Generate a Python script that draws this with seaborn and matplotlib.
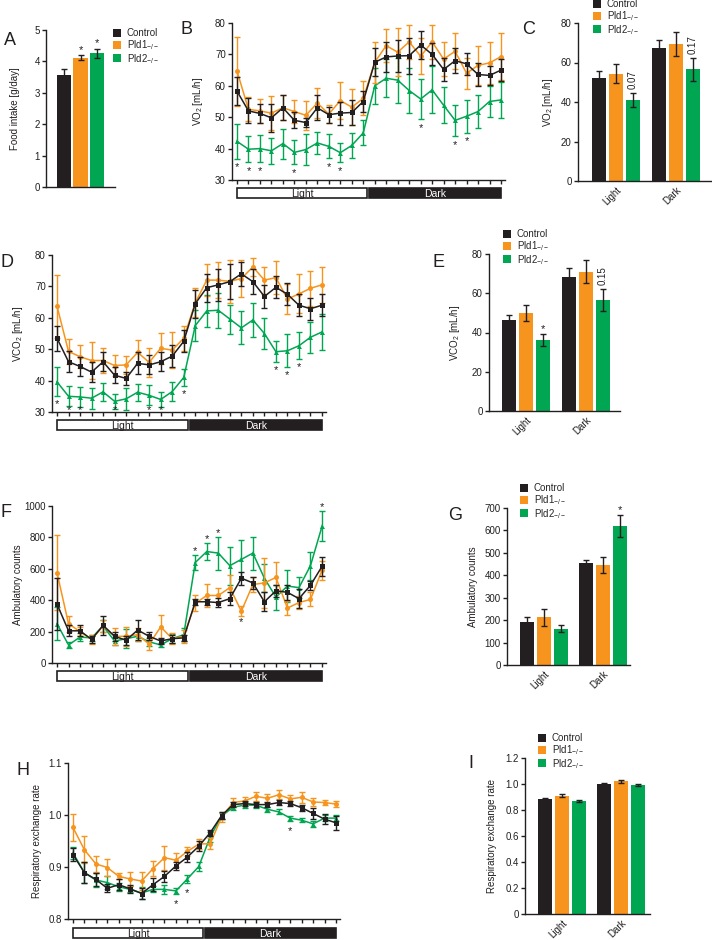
import numpy as np
import pandas as pd
import matplotlib
matplotlib.use("Agg")
import matplotlib.pyplot as plt
import seaborn as sns
from matplotlib.patches import Rectangle
from matplotlib.lines import Line2D

# ---------------- data ----------------
genotypes = ["Control", "Pld1", "Pld2"]
legend_labels = ["Control", "Pld1$_{-/-}$", "Pld2$_{-/-}$"]
phases = ["Light", "Dark"]
hours = list(range(24))

# A: food intake
food_mean = [3.57, 4.12, 4.26]
food_err = [0.20, 0.08, 0.15]
food_marks = {"Pld1": "*", "Pld2": "*"}

# B: VO2 time course
vo2_ctrl = [58.3, 52.0, 51.2, 49.8, 53.0, 49.0, 48.3, 53.0, 50.8, 51.3, 51.5, 55.0,
            67.5, 69.2, 69.5, 69.6, 73.0, 70.0, 65.2, 68.0, 67.0, 63.6, 63.3, 65.0]
vo2_ctrl_err = [4.5, 4.0, 3.0, 4.5, 4.0, 2.5, 1.5, 4.0, 2.5, 3.7, 4.0, 3.5,
                4.5, 4.7, 5.0, 5.7, 4.5, 3.5, 3.8, 4.0, 3.5, 3.8, 3.0, 3.5]
vo2_pld1 = [64.7, 52.5, 52.0, 51.3, 53.0, 51.8, 50.6, 54.5, 51.0, 55.3, 53.2, 56.0,
            67.5, 72.8, 70.7, 74.0, 69.4, 74.0, 68.5, 71.0, 64.0, 66.5, 67.3, 69.3]
vo2_pld1_err = [11.0, 3.8, 3.7, 5.5, 4.0, 3.8, 4.7, 4.7, 3.0, 5.8, 5.7, 5.4,
                6.5, 5.3, 7.7, 5.5, 5.8, 5.5, 5.5, 5.8, 5.0, 6.2, 6.7, 7.5]
vo2_pld2 = [42.3, 39.8, 40.0, 39.3, 41.6, 38.8, 39.7, 41.8, 40.7, 38.7, 41.0, 45.0,
            60.0, 62.4, 61.8, 58.5, 55.8, 58.7, 53.8, 49.0, 50.3, 51.8, 55.0, 55.5]
vo2_pld2_err = [5.5, 4.2, 4.2, 4.2, 4.8, 3.8, 4.8, 3.5, 3.8, 3.0, 4.0, 4.0,
                5.8, 6.0, 7.2, 7.3, 6.5, 7.5, 5.8, 5.0, 5.2, 5.3, 5.0, 5.8]
vo2_star_hours = [0, 1, 2, 5, 8, 9, 16, 19, 20]

# C: VO2 bars
vo2_bar_light = [52.0, 54.3, 41.0]
vo2_bar_light_err = [3.5, 4.7, 3.7]
vo2_bar_dark = [67.2, 69.5, 56.5]
vo2_bar_dark_err = [4.3, 6.0, 5.8]
vo2_bar_marks = {("Light", "Pld2"): "0.07", ("Dark", "Pld2"): "0.17"}

# D: VCO2 time course
vco2_ctrl = [53.5, 46.0, 44.5, 42.7, 46.0, 41.7, 40.7, 45.5, 45.0, 46.0, 47.8, 52.5,
             64.5, 69.6, 70.5, 71.5, 74.0, 71.5, 66.8, 69.7, 67.5, 64.0, 62.9, 64.0]
vco2_ctrl_err = [4.0, 3.3, 3.0, 3.3, 3.0, 2.5, 2.0, 3.5, 3.0, 3.0, 3.5, 3.5,
                 4.5, 4.5, 5.0, 5.5, 3.8, 4.0, 3.8, 3.5, 3.5, 3.5, 3.5, 3.5]
vco2_pld1 = [63.7, 49.3, 47.6, 46.4, 46.4, 44.8, 45.0, 49.0, 45.8, 50.3, 49.7, 53.5,
             64.8, 72.0, 72.0, 71.6, 72.5, 76.2, 72.0, 72.8, 66.0, 67.6, 69.4, 70.5]
vco2_pld1_err = [10.0, 4.0, 3.7, 5.8, 4.0, 3.4, 2.8, 3.8, 4.5, 5.0, 5.8, 4.0,
                 4.7, 5.0, 5.7, 6.8, 6.0, 3.0, 4.3, 5.3, 4.7, 6.2, 5.5, 5.8]
vco2_pld2 = [39.6, 35.0, 34.8, 34.4, 36.4, 33.4, 34.2, 36.3, 35.3, 34.0, 36.5, 41.0,
             57.5, 62.2, 62.4, 59.6, 56.8, 59.3, 55.0, 49.2, 49.5, 51.1, 53.8, 55.5]
vco2_pld2_err = [4.6, 3.2, 3.2, 3.3, 2.8, 2.3, 3.5, 2.7, 3.2, 2.3, 3.0, 2.8,
                 5.0, 5.2, 5.5, 4.6, 5.3, 5.5, 5.0, 3.3, 5.2, 4.3, 5.0, 5.8]
vco2_star_hours = [0, 1, 2, 5, 8, 9, 11, 19, 20, 21]

# E: VCO2 bars
vco2_bar_light = [46.3, 50.0, 36.2]
vco2_bar_light_err = [2.7, 4.2, 3.0]
vco2_bar_dark = [68.3, 71.0, 56.5]
vco2_bar_dark_err = [4.5, 6.0, 5.5]
vco2_bar_marks = {("Light", "Pld2"): "*", ("Dark", "Pld2"): "0.15"}

# F: ambulatory counts time course
amb_ctrl = [375, 205, 205, 150, 240, 170, 145, 210, 170, 140, 155, 160,
            390, 390, 385, 410, 540, 510, 390, 460, 450, 410, 495, 615]
amb_ctrl_err = [165, 35, 35, 20, 60, 30, 30, 65, 25, 20, 25, 20,
                20, 20, 30, 40, 40, 40, 60, 40, 50, 60, 30, 60]
amb_pld1 = [575, 250, 200, 150, 235, 170, 170, 180, 120, 230, 155, 170,
            380, 430, 430, 480, 330, 500, 510, 545, 350, 385, 405, 590]
amb_pld1_err = [240, 50, 30, 30, 40, 55, 60, 40, 40, 75, 35, 40,
                50, 75, 50, 80, 30, 50, 160, 100, 45, 40, 45, 60]
amb_pld2 = [250, 115, 165, 160, 235, 140, 155, 170, 135, 115, 155, 180,
            640, 710, 700, 620, 660, 700, 540, 420, 490, 480, 620, 870]
amb_pld2_err = [105, 20, 25, 20, 40, 25, 60, 30, 25, 15, 30, 40,
                50, 55, 105, 120, 125, 105, 90, 80, 100, 65, 90, 95]
amb_star_hours_pld2 = [12, 13, 14, 23]
amb_star_hours_pld1 = [16]

# G: ambulatory bars
amb_bar_light = [193, 213, 162]
amb_bar_light_err = [22, 37, 17]
amb_bar_dark = [455, 445, 620]
amb_bar_dark_err = [15, 35, 50]
amb_bar_marks = {("Dark", "Pld2"): "*"}

# H: RER time course
rer_ctrl = [0.924, 0.889, 0.876, 0.859, 0.866, 0.858, 0.849, 0.866, 0.882, 0.902, 0.919, 0.940,
            0.966, 0.999, 1.020, 1.022, 1.020, 1.020, 1.024, 1.022, 1.014, 1.003, 0.992, 0.985]
rer_ctrl_err = [0.012, 0.020, 0.012, 0.008, 0.010, 0.008, 0.010, 0.012, 0.010, 0.008, 0.010, 0.010,
                0.006, 0.006, 0.005, 0.005, 0.005, 0.005, 0.005, 0.004, 0.006, 0.010, 0.010, 0.014]
rer_pld1 = [0.976, 0.933, 0.906, 0.899, 0.882, 0.877, 0.873, 0.897, 0.918, 0.913, 0.930, 0.944,
            0.945, 0.996, 1.024, 1.027, 1.036, 1.032, 1.039, 1.031, 1.034, 1.025, 1.024, 1.021]
rer_pld1_err = [0.026, 0.026, 0.015, 0.017, 0.006, 0.013, 0.017, 0.015, 0.023, 0.013, 0.008, 0.010,
                0.010, 0.010, 0.009, 0.008, 0.009, 0.009, 0.009, 0.008, 0.010, 0.007, 0.005, 0.005]
rer_pld2 = [0.927, 0.889, 0.875, 0.870, 0.862, 0.857, 0.850, 0.857, 0.857, 0.854, 0.877, 0.901,
            0.958, 0.998, 1.015, 1.019, 1.019, 1.011, 1.006, 0.994, 0.990, 0.983, 0.994, 0.994]
rer_pld2_err = [0.012, 0.020, 0.013, 0.012, 0.008, 0.006, 0.012, 0.006, 0.008, 0.006, 0.007, 0.008,
                0.010, 0.006, 0.006, 0.006, 0.005, 0.005, 0.005, 0.005, 0.004, 0.006, 0.006, 0.006]
rer_star_hours = [9, 10, 19]

# I: RER bars
rer_bar_light = [0.886, 0.910, 0.870]
rer_bar_light_err = [0.006, 0.010, 0.005]
rer_bar_dark = [1.000, 1.020, 0.990]
rer_bar_dark_err = [0.008, 0.010, 0.008]

# ---------------- style ----------------
sns.set_style("ticks")
plt.rcParams["font.family"] = ["Liberation Sans", "DejaVu Sans"]
plt.rcParams["mathtext.fontset"] = "custom"
plt.rcParams["mathtext.rm"] = "Liberation Sans"
plt.rcParams["mathtext.it"] = "Liberation Sans:italic"
plt.rcParams["mathtext.bf"] = "Liberation Sans:bold"
plt.rcParams["mathtext.default"] = "regular"

TXT = "#231f20"
FS = 7
colors = {"Control": "#231f20", "Pld1": "#f7941d", "Pld2": "#00a651"}
markers = {"Control": "s", "Pld1": "o", "Pld2": "^"}

W, H = 712, 940
fig = plt.figure(figsize=(W / 100, H / 100), dpi=100)


def add_ax(x0, y0, x1, y1):
    return fig.add_axes([x0 / W, 1 - y1 / H, (x1 - x0) / W, (y1 - y0) / H])


def style_ax(ax, ylabel, label_px, spine_px, right_px):
    sns.despine(ax=ax)
    for s in ("left", "bottom"):
        ax.spines[s].set_linewidth(1.0)
        ax.spines[s].set_color(TXT)
    ax.tick_params(axis="y", length=3, width=1, pad=1.5, labelsize=FS,
                   colors=TXT)
    ax.set_ylabel(ylabel, fontsize=FS, color=TXT)
    ax.yaxis.set_label_coords((label_px - spine_px) / (right_px - spine_px), 0.5)


def panel_letter(letter, x, y):
    fig.text(x / W, 1 - y / H, letter, fontsize=13, color=TXT,
             va="baseline", ha="left")


def add_legend(ax, x, y):
    handles = [Line2D([], [], ls="", marker="s", markersize=5.5,
                      markeredgewidth=0, color=colors[g]) for g in genotypes]
    ax.legend(handles, legend_labels, loc="upper left",
              bbox_to_anchor=(x / W, 1 - y / H), bbox_transform=fig.transFigure,
              frameon=False, fontsize=FS, handlelength=0.8, handletextpad=0.6,
              labelspacing=0.0, borderpad=0, borderaxespad=0)


def line_panel(geom, box_px, ylim, yticks, yticklabels, series, errors,
               ylabel, label_px):
    spine, p0, p23, right, ytop, ybot = geom
    unit = (p23 - p0) / 23
    xlim = ((spine - p0) / unit, 23 + (right - p23) / unit)
    ax = add_ax(spine, ytop, right, ybot)
    for g in ["Pld2", "Pld1", "Control"]:
        sns.lineplot(x=hours, y=series[g], color=colors[g], marker=markers[g],
                     markersize=3.6, markeredgewidth=0, linewidth=1.1,
                     ax=ax, legend=False)
        ax.errorbar(hours, series[g], yerr=errors[g], fmt="none",
                    ecolor=colors[g], elinewidth=1.0, capsize=2, capthick=1.0)
    ax.set_xlim(*xlim)
    ax.set_ylim(*ylim)
    ax.set_xticks(hours)
    ax.set_xticklabels([])
    ax.set_yticks(yticks)
    ax.set_yticklabels(yticklabels)
    style_ax(ax, ylabel, label_px, spine, right)
    ax.tick_params(axis="x", length=3, width=1, colors=TXT)
    # light / dark bar
    bx = add_ax(spine, box_px[0], right, box_px[1])
    bx.set_xlim(*xlim)
    bx.set_ylim(0, 1)
    bx.axis("off")
    bx.add_patch(Rectangle((0, 0.06), 11.35, 0.88, fc="white", ec=TXT, lw=1.2))
    bx.add_patch(Rectangle((11.5, 0.06), 11.5, 0.88, fc=TXT, ec=TXT, lw=1.2))
    bx.text(11.35 / 2, 0.45, "Light", ha="center", va="center", fontsize=7.5,
            color=TXT)
    bx.text(11.5 + 11.5 / 2, 0.45, "Dark", ha="center", va="center",
            fontsize=7.5, color="white")
    return ax


def star(ax, x, y, va="center"):
    ax.text(x, y, "*", ha="center", va=va, fontsize=8, color=TXT)


def bar_panel(geom, light, light_err, dark, dark_err, ylim, yticks,
              yticklabels, ylabel, label_px, marks, legend_xy):
    spine, right, ytop, ybot, c_light, c_dark = geom
    unit = c_dark - c_light
    ax = add_ax(spine, ytop, right, ybot)
    df = pd.DataFrame({"phase": np.repeat(phases, 3),
                       "genotype": genotypes * 2,
                       "value": list(light) + list(dark)})
    sns.barplot(data=df, x="phase", y="value", hue="genotype",
                order=phases, hue_order=genotypes, palette=colors,
                errorbar=None, width=0.85, gap=0.15, saturation=1,
                linewidth=0, legend=False, ax=ax)
    bars = sorted(ax.patches, key=lambda p: p.get_x())
    xc = [p.get_x() + p.get_width() / 2 for p in bars]
    vals = list(light) + list(dark)
    errs = list(light_err) + list(dark_err)
    ax.errorbar(xc, vals, yerr=errs, fmt="none", ecolor=TXT, elinewidth=1.0,
                capsize=2, capthick=1.0)
    ax.set_xlim((spine - c_light) / unit, 1 + (right - c_dark) / unit)
    ax.set_ylim(*ylim)
    ax.set_yticks(yticks)
    ax.set_yticklabels(yticklabels)
    ax.set_xlabel("")
    ax.set_xticks([0, 1])
    ax.set_xticklabels(phases, rotation=45, ha="right", rotation_mode="anchor",
                       fontsize=FS, color=TXT)
    style_ax(ax, ylabel, label_px, spine, right)
    ax.tick_params(axis="x", length=0, pad=3)
    for (ph, g), txt in marks.items():
        k = phases.index(ph) * 3 + genotypes.index(g)
        top = vals[k] + errs[k]
        if txt == "*":
            ax.annotate("*", xy=(xc[k], top), xytext=(0, 0),
                        textcoords="offset points", ha="center", va="bottom",
                        fontsize=8, color=TXT)
        else:
            ax.annotate(txt, xy=(xc[k], top), xytext=(0, 3),
                        textcoords="offset points", ha="center", va="bottom",
                        rotation=90, fontsize=FS, color=TXT)
    add_legend(ax, *legend_xy)
    return ax


# ---------------- A ----------------
axA = add_ax(46, 30, 115, 187)
sns.barplot(x=genotypes, y=food_mean, hue=genotypes, palette=colors,
            width=0.85, saturation=1, linewidth=0, dodge=False, legend=False,
            ax=axA)
barsA = sorted(axA.patches, key=lambda p: p.get_x())
xA = [p.get_x() + p.get_width() / 2 for p in barsA]
axA.errorbar(xA, food_mean, yerr=food_err, fmt="none", ecolor=TXT,
             elinewidth=1.0, capsize=2, capthick=1.0)
unitA = 16.5
axA.set_xlim((46 - 64) / unitA, 2 + (115 - 97) / unitA)
axA.set_ylim(0, 5)
axA.set_yticks([0, 1, 2, 3, 4, 5])
axA.set_xticks([])
style_ax(axA, "Food intake [g/day]", 20, 46, 115)
for g, txt in food_marks.items():
    k = genotypes.index(g)
    axA.annotate(txt, xy=(xA[k], food_mean[k] + food_err[k]), xytext=(0, 0),
                 textcoords="offset points", ha="center", va="bottom",
                 fontsize=8, color=TXT)
add_legend(axA, 113, 28)
panel_letter("A", 4, 45)

# ---------------- B ----------------
axB = line_panel((232, 237, 501, 505, 23, 180), (187, 199), (30, 80),
                 [30, 40, 50, 60, 70, 80], ["30", "40", "50", "60", "70", "80"],
                 {"Control": vo2_ctrl, "Pld1": vo2_pld1, "Pld2": vo2_pld2},
                 {"Control": vo2_ctrl_err, "Pld1": vo2_pld1_err, "Pld2": vo2_pld2_err},
                 "VO$_2$ [mL/h]", 205)
for h in vo2_star_hours:
    star(axB, h, max(vo2_pld2[h] - vo2_pld2_err[h] - 2.8, 31.5))
panel_letter("B", 180, 34)

# ---------------- C ----------------
bar_panel((578, 711, 23, 181, 616, 676), vo2_bar_light, vo2_bar_light_err,
          vo2_bar_dark, vo2_bar_dark_err, (0, 80), [0, 20, 40, 60, 80],
          ["0", "20", "40", "60", "80"], "VO$_2$ [mL/h]", 555, vo2_bar_marks,
          (593, -1))
panel_letter("C", 522, 34)

# ---------------- D ----------------
axD = line_panel((52, 57, 322, 326, 255, 412), (419, 431), (30, 80),
                 [30, 40, 50, 60, 70, 80], ["30", "40", "50", "60", "70", "80"],
                 {"Control": vco2_ctrl, "Pld1": vco2_pld1, "Pld2": vco2_pld2},
                 {"Control": vco2_ctrl_err, "Pld1": vco2_pld1_err, "Pld2": vco2_pld2_err},
                 "VCO$_2$ [mL/h]", 25)
for h in vco2_star_hours:
    star(axD, h, max(vco2_pld2[h] - vco2_pld2_err[h] - 2.5, 30.5))
panel_letter("D", 0, 267)

# ---------------- E ----------------
bar_panel((489, 620, 254, 411, 526, 586), vco2_bar_light, vco2_bar_light_err,
          vco2_bar_dark, vco2_bar_dark_err, (0, 80), [0, 20, 40, 60, 80],
          ["0", "20", "40", "60", "80"], "VCO$_2$ [mL/h]", 462, vco2_bar_marks,
          (503, 229))
panel_letter("E", 432, 267)

# ---------------- F ----------------
axF = line_panel((52, 57, 322, 326, 506, 663), (670, 682), (0, 1000),
                 [0, 200, 400, 600, 800, 1000],
                 ["0", "200", "400", "600", "800", "1000"],
                 {"Control": amb_ctrl, "Pld1": amb_pld1, "Pld2": amb_pld2},
                 {"Control": amb_ctrl_err, "Pld1": amb_pld1_err, "Pld2": amb_pld2_err},
                 "Ambulatory counts", 23)
for h in amb_star_hours_pld2:
    star(axF, h, amb_pld2[h] + amb_pld2_err[h] + 25)
for h in amb_star_hours_pld1:
    star(axF, h, amb_pld1[h] - amb_pld1_err[h] - 40)
panel_letter("F", 0, 517)

# ---------------- G ----------------
bar_panel((507, 630, 508, 665, 544, 603), amb_bar_light, amb_bar_light_err,
          amb_bar_dark, amb_bar_dark_err, (0, 700),
          [0, 100, 200, 300, 400, 500, 600, 700],
          ["0", "100", "200", "300", "400", "500", "600", "700"],
          "Ambulatory counts", 478, amb_bar_marks, (520, 483))
panel_letter("G", 448, 520)

# ---------------- H ----------------
axH = line_panel((68, 73, 336, 340, 763, 919), (927, 939), (0.8, 1.1),
                 [0.8, 0.9, 1.0, 1.1], ["0.8", "0.9", "1.0", "1.1"],
                 {"Control": rer_ctrl, "Pld1": rer_pld1, "Pld2": rer_pld2},
                 {"Control": rer_ctrl_err, "Pld1": rer_pld1_err, "Pld2": rer_pld2_err},
                 "Respiratory exchange rate", 42)
for h in rer_star_hours:
    star(axH, h, rer_pld2[h] - rer_pld2_err[h] - 0.02)
panel_letter("H", 17, 775)

# ---------------- I ----------------
bar_panel((525, 650, 758, 914, 562, 621), rer_bar_light, rer_bar_light_err,
          rer_bar_dark, rer_bar_dark_err, (0, 1.2),
          [0, 0.2, 0.4, 0.6, 0.8, 1.0, 1.2],
          ["0", "0.2", "0.4", "0.6", "0.8", "1.0", "1.2"],
          "Respiratory exchange rate", 497, {}, (538, 733))
panel_letter("I", 468, 768)

fig.savefig("out.png", dpi=100)
